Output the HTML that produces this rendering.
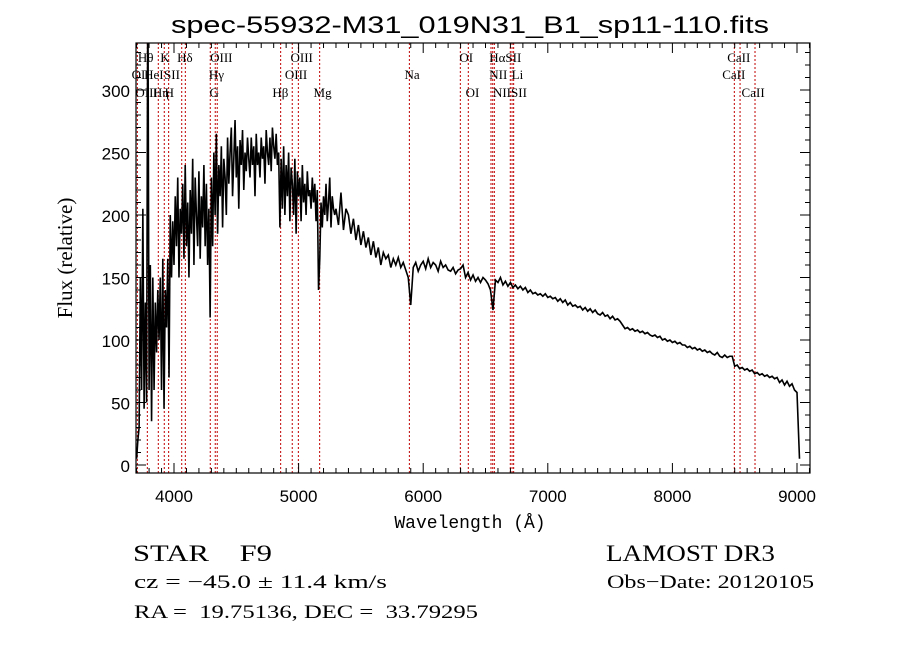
<!DOCTYPE html>
<html><head><meta charset="utf-8"><style>
html,body{margin:0;padding:0;background:#fff;}
svg{display:block;}
text{fill:#000;}
</style></head><body>
<svg id="chart" width="900" height="649" viewBox="0 0 900 649" xmlns="http://www.w3.org/2000/svg">
<rect width="900" height="649" fill="#fff"/>
<defs><clipPath id="plotclip"><rect x="136" y="43" width="674" height="430"/></clipPath></defs>
<text x="470" y="33" text-anchor="middle" font-family="Liberation Sans, sans-serif" font-size="24" textLength="598" lengthAdjust="spacingAndGlyphs">spec-55932-M31_019N31_B1_sp11-110.fits</text>
<g id="lines"></g>
<g id="linelabels" font-family="Liberation Serif, serif" font-size="13"></g>
<g id="series" clip-path="url(#plotclip)"></g>
<rect x="136" y="43" width="674" height="430" fill="none" stroke="#000" stroke-width="1.2"/>
<g id="axes"></g>
<text x="470" y="528" text-anchor="middle" font-family="Liberation Mono, monospace" font-size="18">Wavelength (Å)</text>
<text transform="translate(72,258) rotate(-90)" text-anchor="middle" font-family="Liberation Serif, serif" font-size="21">Flux (relative)</text>
<text x="133" y="561" font-family="Liberation Serif, serif" font-size="23" xml:space="preserve" textLength="139" lengthAdjust="spacingAndGlyphs">STAR    F9</text>
<text x="606" y="561" font-family="Liberation Serif, serif" font-size="23" textLength="169" lengthAdjust="spacingAndGlyphs">LAMOST DR3</text>
<text x="134" y="588" font-family="Liberation Serif, serif" font-size="19" textLength="253" lengthAdjust="spacingAndGlyphs">cz = −45.0 ± 11.4 km/s</text>
<text x="607" y="588" font-family="Liberation Serif, serif" font-size="19" textLength="207" lengthAdjust="spacingAndGlyphs">Obs−Date: 20120105</text>
<text x="134" y="618" font-family="Liberation Serif, serif" font-size="19" xml:space="preserve" textLength="344" lengthAdjust="spacingAndGlyphs">RA =  19.75136, DEC =  33.79295</text>
</svg>
<script>
const blueStart = 3700;
const blueStep = 10;
const fluxBlue = [5,20,30,150,60,205,45,130,50,400,60,160,35,150,60,130,90,140,100,150,60,165,45,140,110,165,70,200,150,195,
160,215,175,230,150,205,185,225,165,240,175,210,150,220,185,245,160,230,200,175,235,165,215,190,240,175,225,160,205,118,
230,175,250,200,265,185,240,215,255,190,245,230,200,262,225,250,270,215,245,276,230,255,205,260,240,268,220,250,235,262,
245,230,262,240,255,215,265,240,250,230,262,245,255,225,268,250,240,262,235,270,255,245,265,240,250,190,245,205,255,200,
240,215,250,195,238,225,200,245,185,235,215,230,195,240,210,225,200,235,215,220,205,230,210,225,195,220,140,165,210,190,
215,200,225,195,210,230,190,215,205,200];
const redStart = 5300;
const redStep = 20;
const fluxRed = [205,192,218,188,205,200,185,197,180,192,176,187,174,182,168,179,166,174,160,170,165,168,158,165,160,166,158,162,156,150,128,158,162,155,160,163,157,165,158,162,160,155,163,158,160,156,155,158,153,156,157,160,150,154,148,152,147,150,146,150,148,145,140,124,148,146,150,144,147,143,146,142,144,141,143,140,142,138,140,137,138,136,137,135,137,134,135,133,134,131,133,130,132,128,130,127,128,126,127,124,126,123,125,122,124,121,120,122,119,120,117,119,116,117,115,112,109,110,108,109,107,108,106,107,105,106,104,103,104,102,103,100,101,99,100,98,99,97,98,96,96,94,95,93,94,92,93,91,92,90,91,89,88,90,87,86,88,86,87,87,79,80,77,78,76,77,75,76,73,74,72,73,71,72,70,71,69,70,66,68,64,67,63,65,60,58,5];
const lineWl = [3706,3786,3874,3922,3957,4062,4091,4291,4331,4347,4856,4949,4998,5169,5889,6298,6362,6544,6558,6571,6699,6713,6726,8497,8543,8663];
const labelText = ["Hθ","K","Hδ","OIII","OIII","OI","HαSII","CaII","OII","HeI","SII","Hγ","OIII","Na","NII","Li","CaII","OIII","Hη","H","G","Hβ","Mg","OI","NIISII","CaII"];
const labelWl = [3710,3890,4025,4290,4935,6290,6530,8440,3660,3760,3920,4280,4890,5850,6530,6710,8400,3690,3830,3925,4285,4790,5120,6340,6560,8555];
const labelRow = [0,0,0,0,0,0,0,0,1,1,1,1,1,1,1,1,1,2,2,2,2,2,2,2,2,2];
const xTicks = [4000,5000,6000,7000,8000,9000];
const yTicks = [0,50,100,150,200,250,300];

const NS = "http://www.w3.org/2000/svg";
const X0 = 136, X1 = 810, Y0 = 43, Y1 = 473;
const xScale = w => 174 + (w - 4000) * 0.1246;
const yScale = f => 465 - f * 1.25;
function mk(tag, attrs, parent){ const e=document.createElementNS(NS,tag); for(const k in attrs) e.setAttribute(k,attrs[k]); parent.appendChild(e); return e; }

const gl = document.getElementById('lines');
lineWl.forEach(w=>{
  const l = mk('line',{x1:xScale(w),x2:xScale(w),y1:Y0,y2:Y1,stroke:'#c00000','stroke-width':1,'stroke-dasharray':'2,2'},gl);
  
  
});
const glab = document.getElementById('linelabels');
const rowY = [62,79,97];
labelText.forEach((t,i)=>{
  const tx = mk('text',{x:xScale(labelWl[i]),y:rowY[labelRow[i]]},glab);
  tx.textContent = t;
  
  
});

const gs = document.getElementById('series');
let pts = [];
fluxBlue.forEach((f,i)=>{ pts.push(xScale(blueStart + i*blueStep).toFixed(2)+','+yScale(f).toFixed(2)); });
fluxRed.forEach((f,i)=>{ pts.push(xScale(redStart + i*redStep).toFixed(2)+','+yScale(f).toFixed(2)); });
const pl = mk('polyline',{points:pts.join(' '),fill:'none',stroke:'#000','stroke-width':1.6,'stroke-linejoin':'miter'},gs);



const ga = document.getElementById('axes');
for(let w=3700; w<=9100; w+=100){
  const x = xScale(w); if(x<X0||x>X1) continue;
  const len = (w%1000===0)?10:5;
  mk('line',{x1:x,x2:x,y1:Y1,y2:Y1-len,stroke:'#000','stroke-width':1},ga);
  mk('line',{x1:x,x2:x,y1:Y0,y2:Y0+len,stroke:'#000','stroke-width':1},ga);
}
for(let f=0; f<=330; f+=10){
  const y = yScale(f); if(y<Y0||y>Y1) continue;
  const len = (f%50===0)?10:5;
  mk('line',{x1:X0,x2:X0+len,y1:y,y2:y,stroke:'#000','stroke-width':1},ga);
  mk('line',{x1:X1,x2:X1-len,y1:y,y2:y,stroke:'#000','stroke-width':1},ga);
}
xTicks.forEach(w=>{
  const t = mk('text',{x:xScale(w),y:502,'text-anchor':'middle','font-family':'Liberation Sans, sans-serif','font-size':17},ga);
  t.textContent = w;
  
  
});
yTicks.forEach(f=>{
  const t = mk('text',{x:130,y:yScale(f)+7,'text-anchor':'end','font-family':'Liberation Sans, sans-serif','font-size':17},ga);
  t.textContent = f;
  
  
});
</script>
</body></html>
